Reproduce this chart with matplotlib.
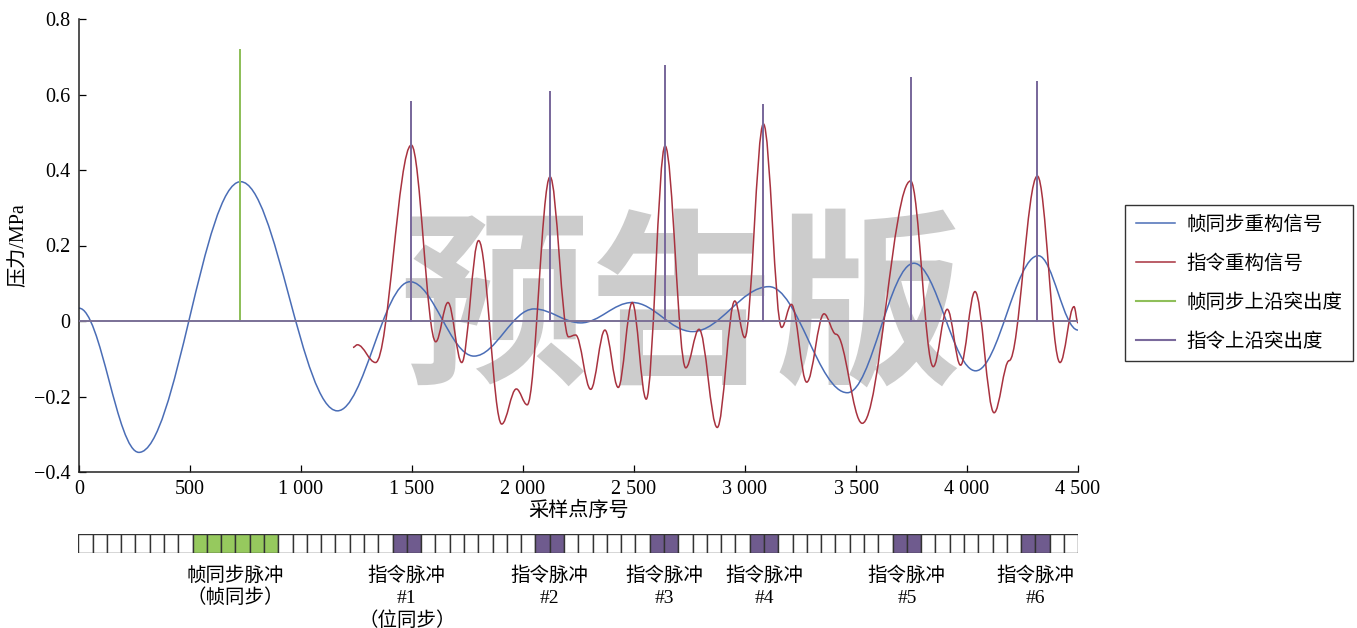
import numpy as np
import matplotlib
matplotlib.use("Agg")
import matplotlib.pyplot as plt
from matplotlib.path import Path
from matplotlib.patches import PathPatch
from matplotlib.lines import Line2D
from matplotlib.ticker import FuncFormatter

plt.rcParams["font.family"] = ["Liberation Serif", "Noto Sans CJK SC"]
plt.rcParams["axes.unicode_minus"] = True

# 帧同步重构信号 (peaks and troughs)
frame_x = [0, 270, 728, 1164, 1491, 1779, 2050, 2260, 2492, 2763, 3108, 3461, 3761, 4039, 4321, 4500]
frame_y = [0.034, -0.348, 0.369, -0.238, 0.104, -0.093, 0.032, -0.005, 0.049, -0.028, 0.091, -0.190,
           0.153, -0.132, 0.173, -0.024]

# 指令重构信号
cmd_x = [1234, 1254, 1336, 1497, 1607, 1662, 1724, 1800, 1904, 1970, 2019, 2122, 2205, 2237, 2305,
         2369, 2429, 2492, 2555, 2640, 2733, 2793, 2875, 2954, 2999, 3083, 3165, 3209, 3278, 3356,
         3410, 3528, 3746, 3848, 3911, 3971, 4036, 4122, 4190, 4317, 4419, 4482, 4500]
cmd_y = [-0.070, -0.063, -0.110, 0.466, -0.055, 0.049, -0.110, 0.213, -0.273, -0.180, -0.222, 0.382,
         -0.042, -0.037, -0.181, -0.024, -0.176, 0.049, -0.207, 0.464, -0.124, -0.022, -0.282, 0.053,
         -0.044, 0.522, -0.017, 0.044, -0.162, 0.019, -0.035, -0.271, 0.371, -0.121, 0.031, -0.117,
         0.078, -0.243, -0.105, 0.384, -0.110, 0.038, -0.005]

# 上沿突出度
frame_edge_x = [725]
frame_edge_h = [0.718]
cmd_edge_x = [1495, 2121, 2639, 3079, 3746, 4316]
cmd_edge_h = [0.581, 0.606, 0.675, 0.572, 0.643, 0.632]

# pulse strip
n_cells = 70
frame_cells = [8, 9, 10, 11, 12, 13]
cmd_cells = [22, 23, 32, 33, 40, 41, 47, 48, 57, 58, 66, 67]
label_pos = [11, 23, 33, 41, 48, 58, 67]
label_lines = [["帧同步脉冲", "（帧同步）"],
               ["指令脉冲", "#1", "（位同步）"],
               ["指令脉冲", "#2"],
               ["指令脉冲", "#3"],
               ["指令脉冲", "#4"],
               ["指令脉冲", "#5"],
               ["指令脉冲", "#6"]]

c_blue = "#4a6db6"
c_red = "#a8323f"
c_green = "#8fbf5a"
c_purple = "#7a6a9c"


def smooth_path(xs, ys):
    verts = [(xs[0], ys[0])]
    codes = [Path.MOVETO]
    for x0, y0, x1, y1 in zip(xs[:-1], ys[:-1], xs[1:], ys[1:]):
        d = (x1 - x0) * (1 - 2 / np.pi)
        verts += [(x0 + d, y0), (x1 - d, y1), (x1, y1)]
        codes += [Path.CURVE4] * 3
    return Path(verts, codes)


def edge_series(px, ph, x_end=4500):
    xs, ys = [0], [0]
    for p, h in zip(px, ph):
        xs += [p, p, p]
        ys += [0, h, 0]
    xs.append(x_end)
    ys.append(0)
    return xs, ys


fig = plt.figure(figsize=(13.57, 6.28), dpi=100)
ax = fig.add_axes([79 / 1357, 1 - 472 / 628, 999 / 1357, 453 / 628])

ax.text(0.603, 0.352, "预告版", transform=ax.transAxes, ha="center", va="center",
        fontsize=135, fontweight="bold", color="#cccccc", family="Noto Sans CJK SC", zorder=0)

ax.add_patch(PathPatch(smooth_path(frame_x, frame_y), facecolor="none", edgecolor=c_blue, lw=1.1, zorder=2))
ax.add_patch(PathPatch(smooth_path(cmd_x, cmd_y), facecolor="none", edgecolor=c_red, lw=1.1, zorder=3))
gx, gy = edge_series(frame_edge_x, frame_edge_h)
ax.plot(gx, gy, color=c_green, lw=1.2, zorder=4)
vx, vy = edge_series(cmd_edge_x, cmd_edge_h)
ax.plot(vx, vy, color=c_purple, lw=1.3, zorder=5)

ax.set_xlim(0, 4500)
ax.set_ylim(-0.4, 0.8)
ax.set_xticks(np.arange(0, 4501, 500))
ax.set_yticks(np.arange(-0.4, 0.81, 0.2))
ax.xaxis.set_major_formatter(FuncFormatter(lambda v, p: f"{int(round(v)):,}".replace(",", " ")))
ax.yaxis.set_major_formatter(FuncFormatter(lambda v, p: "0" if abs(v) < 1e-9 else f"{v:.1f}".replace("-", "\u2212")))
ax.tick_params(direction="in", length=5, width=0.9, labelsize=14.5, pad=6)
for s in ["top", "right"]:
    ax.spines[s].set_visible(False)
for s in ["left", "bottom"]:
    ax.spines[s].set_linewidth(1.1)
    ax.spines[s].set_color("#222222")
ax.set_xlabel("采样点序号", fontsize=14.5, labelpad=2)
ax.set_ylabel("压力/MPa", fontsize=14.5, labelpad=4)

handles = [Line2D([], [], color=c_blue, lw=1.1),
           Line2D([], [], color=c_red, lw=1.1),
           Line2D([], [], color=c_green, lw=1.5),
           Line2D([], [], color=c_purple, lw=1.5)]
labels = ["帧同步重构信号", "指令重构信号", "帧同步上沿突出度", "指令上沿突出度"]
leg = fig.legend(handles, labels, loc="upper left", bbox_to_anchor=(1125 / 1357, 1 - 205 / 628),
                 fontsize=14, frameon=True, fancybox=False, edgecolor="black", handlelength=2.0,
                 labelspacing=1.05, borderpad=0.55, handletextpad=0.6, borderaxespad=0)
leg.get_frame().set_linewidth(1.0)

# pulse strip
ax2 = fig.add_axes([78.3 / 1357, 1 - 553 / 628, 1000 / 1357, 19 / 628])
cells = np.arange(n_cells)
colors = ["white"] * n_cells
for c in frame_cells:
    colors[c] = "#96c95e"
for c in cmd_cells:
    colors[c] = "#6f5b8e"
ax2.bar(cells, 1, width=1, align="edge", color=colors, edgecolor="#333333", linewidth=1.0)
ax2.set_xlim(0, n_cells)
ax2.set_ylim(0, 1)
ax2.axis("off")

for pos, lines in zip(label_pos, label_lines):
    for i, t in enumerate(lines):
        ax2.text(pos, -1.2 - i * 1.17, t, ha="center", va="center", fontsize=14, clip_on=False)

fig.savefig("out.png", dpi=100)
